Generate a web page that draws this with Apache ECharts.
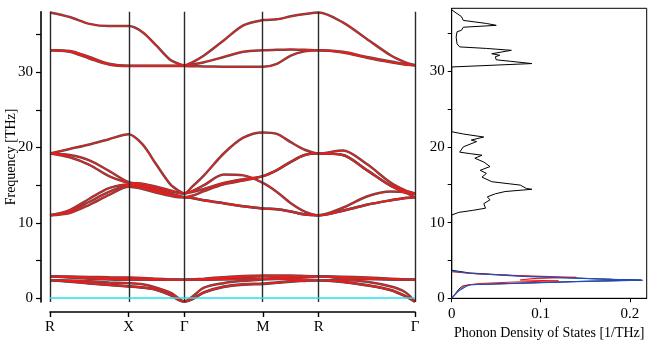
<!DOCTYPE html>
<html>
<head>
<meta charset="utf-8">
<script src="https://cdn.jsdelivr.net/npm/echarts@6/dist/echarts.min.js"></script>
<style>
html,body{margin:0;padding:0;background:#fff;}
#chart{width:650px;height:340px;}
</style>
</head>
<body>
<div id="chart"></div>
<script>
// high symmetry points along the path
var kTicks = [0, 0.707, 1.207, 1.914, 2.414, 3.28];
var kNames = ['R', 'X', 'Γ', 'M', 'R', 'Γ'];
// sample positions along the path
var kx = [0, 0.177, 0.354, 0.530, 0.707, 0.832, 0.957, 1.082, 1.157, 1.207,
          1.278, 1.384, 1.561, 1.737, 1.914, 2.039, 2.164, 2.289, 2.414,
          2.631, 2.847, 3.064, 3.193, 3.28];

// phonon bands [THz], one value per kx
var band1  = [2.4, 2.2, 1.95, 1.75, 1.55, 1.4, 1.1, 0.4, -0.25, -0.45, -0.15, 0.75, 1.5, 1.8, 1.9, 2.05, 2.2, 2.3, 2.4, 2.15, 1.7, 1.05, 0.25, -0.45];
var band2  = [2.4, 2.25, 2.0, 1.8, 1.6, 1.45, 1.15, 0.45, -0.2, -0.45, -0.1, 0.8, 1.55, 1.85, 1.95, 2.1, 2.25, 2.35, 2.4, 2.2, 1.75, 1.1, 0.3, -0.45];
var band3  = [2.4, 2.35, 2.25, 2.1, 2.0, 1.85, 1.4, 0.75, 0.0, -0.45, 0.2, 1.4, 2.0, 2.3, 2.5, 2.55, 2.55, 2.5, 2.4, 2.4, 2.2, 1.55, 0.8, -0.45];
var band4  = [2.9, 2.75, 2.6, 2.5, 2.45, 2.45, 2.45, 2.45, 2.45, 2.45, 2.45, 2.45, 2.48, 2.53, 2.6, 2.7, 2.8, 2.85, 2.9, 2.65, 2.55, 2.5, 2.46, 2.45];
var band5  = [2.9, 2.8, 2.7, 2.6, 2.55, 2.5, 2.47, 2.45, 2.45, 2.45, 2.47, 2.52, 2.65, 2.8, 2.9, 2.9, 2.9, 2.9, 2.9, 2.75, 2.6, 2.5, 2.47, 2.45];
var band6  = [2.9, 2.88, 2.83, 2.78, 2.75, 2.7, 2.6, 2.5, 2.47, 2.45, 2.5, 2.6, 2.8, 2.95, 3.0, 3.0, 3.0, 2.95, 2.9, 2.85, 2.75, 2.6, 2.5, 2.45];
var band7  = [11.0, 11.3, 12.4, 13.7, 14.8, 14.5, 14.0, 13.6, 13.4, 13.4, 13.3, 13.0, 12.6, 12.2, 11.9, 11.8, 11.5, 11.1, 11.0, 11.6, 12.4, 13.0, 13.3, 13.4];
var band8  = [11.0, 11.5, 12.8, 14.1, 15.0, 14.7, 14.2, 13.7, 13.45, 13.4, 13.3, 13.0, 12.6, 12.2, 11.9, 11.8, 11.5, 11.1, 11.0, 11.6, 12.4, 13.0, 13.3, 13.4];
var band9  = [11.0, 11.7, 13.2, 14.6, 15.1, 14.9, 14.4, 13.9, 13.6, 13.4, 13.6, 14.2, 15.1, 15.6, 16.2, 17.0, 18.1, 19.0, 19.2, 19.0, 17.0, 14.9, 14.1, 13.9];
var band10 = [19.2, 18.7, 17.7, 16.2, 15.3, 15.0, 14.6, 14.2, 14.0, 13.9, 14.1, 14.5, 15.3, 15.8, 16.2, 17.0, 18.1, 19.0, 19.2, 19.0, 17.0, 14.9, 14.1, 13.9];
var band11 = [19.2, 19.0, 18.3, 16.9, 15.4, 15.2, 14.8, 14.3, 14.0, 13.9, 14.2, 15.0, 16.4, 16.3, 15.3, 14.1, 12.6, 11.5, 11.0, 12.0, 13.5, 14.15, 14.0, 13.4];
var band12 = [19.2, 19.8, 20.4, 21.1, 21.75, 20.4, 17.7, 15.1, 14.25, 13.9, 14.8, 16.3, 19.2, 21.3, 22.0, 21.8, 20.7, 19.7, 19.2, 19.6, 17.8, 15.3, 14.3, 13.9];
var band13 = [32.9, 32.7, 31.8, 31.0, 30.8, 30.8, 30.8, 30.8, 30.8, 30.8, 30.78, 30.75, 30.72, 30.7, 30.7, 31.1, 32.2, 32.75, 32.9, 32.6, 31.9, 31.3, 31.0, 30.9];
var band14 = [32.9, 32.8, 32.0, 31.1, 30.85, 30.85, 30.85, 30.85, 30.85, 30.85, 31.0, 31.3, 32.0, 32.7, 32.9, 32.95, 33.0, 32.95, 32.9, 32.7, 32.0, 31.4, 31.05, 30.9];
var band15 = [37.9, 37.3, 36.4, 36.1, 36.1, 35.3, 33.5, 31.6, 31.1, 30.9, 31.3, 32.2, 34.2, 36.2, 36.9, 37.0, 37.4, 37.7, 37.9, 36.6, 34.4, 32.2, 31.3, 30.9];

// axis ticks
var freqLabels = [0, 10, 20, 30];
var freqMinor = [0, 5, 10, 15, 20, 25, 30, 35];
var dosLabels = [0, 0.1, 0.2];

// phonon DOS: total (black)
var totFreq = [38.1, 37.6, 37.2, 36.7, 36.3, 36.05, 35.8, 35.4, 35.2, 34.96, 34.5, 33.6, 33.2, 33.0, 32.75, 32.3, 32.1, 31.9, 31.5, 31.3, 31.0, 30.55,
               22.0, 21.7, 21.3, 20.9, 20.7, 20.0, 19.3, 19.1, 18.9, 18.5, 18.0, 17.4, 16.9, 16.5, 16.0, 15.4, 14.95, 14.5, 14.4, 14.1, 13.8, 13.4, 13.0, 12.5, 11.9, 11.6, 11.35, 11.0,
               3.7, 3.35, 2.95, 2.55, 2.4, 2.25, 2.06, 1.8, 1.6, 1.2, 0.6, 0];
var totDos  = [0, 0.006, 0.011, 0.013, 0.039, 0.05, 0.013, 0.011, 0.006, 0.004, 0.005, 0.006, 0.009, 0.039, 0.067, 0.045, 0.054, 0.049, 0.05, 0.066, 0.09, 0,
               0, 0.013, 0.036, 0.022, 0.028, 0.013, 0.009, 0.021, 0.034, 0.026, 0.036, 0.043, 0.032, 0.039, 0.034, 0.045, 0.077, 0.084, 0.09, 0.06, 0.049, 0.04, 0.043, 0.036, 0.038, 0.023, 0.008, 0,
               0, 0.02, 0.077, 0.167, 0.213, 0.15, 0.095, 0.022, 0.012, 0.008, 0.004, 0];
// phonon DOS, low band (blue and red)
var blueFreq = [3.6, 3.3, 2.9, 2.5, 2.38, 2.2, 2.0, 1.78, 1.5, 1.0, 0.4, 0];
var blueDos  = [0, 0.02, 0.08, 0.18, 0.215, 0.14, 0.08, 0.02, 0.015, 0.008, 0.003, 0];
var redFreq  = [3.5, 3.2, 2.95, 2.77, 2.6, 2.42, 2.3, 2.15, 1.95, 1.7, 1.2, 0.6, 0];
var redDos   = [0, 0.03, 0.09, 0.14, 0.09, 0.077, 0.12, 0.07, 0.03, 0.015, 0.01, 0.004, 0];

var FONT = 'Liberation Serif';
var bands = [band1, band2, band3, band4, band5, band6, band7, band8, band9, band10, band11, band12, band13, band14, band15];

function pairs(xs, ys) {
    var out = [];
    for (var i = 0; i < xs.length; i++) out.push([xs[i], ys[i]]);
    return out;
}

var series = [];
// reference lines: high symmetry verticals and zero frequency
series.push({
    type: 'line', xAxisIndex: 0, yAxisIndex: 0, data: [], z: 1,
    markLine: {
        silent: true, symbol: ['none', 'none'], label: {show: false}, animation: false,
        data: kTicks.map(function (k) {
            return {xAxis: k, lineStyle: {color: '#2a2a2a', width: 1.4, type: 'solid'}};
        }).concat([{yAxis: 0, lineStyle: {color: '#22e2f0', width: 1.6, type: 'solid'}}])
    }
});
bands.forEach(function (b, i) {
    var d = pairs(kx, b);
    series.push({
        name: 'band' + (i + 1) + 'a', type: 'line', xAxisIndex: 0, yAxisIndex: 0,
        data: d, smooth: 0.3, showSymbol: false, z: 2,
        lineStyle: {color: '#505050', width: 2.5}
    });
    series.push({
        name: 'band' + (i + 1) + 'b', type: 'line', xAxisIndex: 0, yAxisIndex: 0,
        data: d, smooth: 0.3, showSymbol: false, z: 3,
        lineStyle: {color: '#ee1c1c', width: 1.3}
    });
});
// DOS
series.push({
    type: 'line', xAxisIndex: 1, yAxisIndex: 1, data: pairs(totDos, totFreq),
    showSymbol: false, z: 2, lineStyle: {color: '#000', width: 1}
});
series.push({
    type: 'line', xAxisIndex: 1, yAxisIndex: 1, data: pairs(redDos, redFreq),
    showSymbol: false, z: 3, lineStyle: {color: '#e81818', width: 1}
});
series.push({
    type: 'line', xAxisIndex: 1, yAxisIndex: 1, data: pairs(blueDos, blueFreq),
    showSymbol: false, z: 4, lineStyle: {color: '#1f4fc8', width: 1.1}
});

var option = {
    animation: false,
    backgroundColor: '#fff',
    grid: [
        {left: 50, right: 235, top: 11.8, bottom: 38, outerBoundsMode: 'none', containLabel: false},
        {left: 451.7, right: 3.3, top: 8.3, bottom: 41.7, outerBoundsMode: 'none', containLabel: false,
         show: true, borderColor: '#000', borderWidth: 1, backgroundColor: 'transparent'}
    ],
    xAxis: [
        {
            type: 'value', gridIndex: 0, min: 0, max: 3.28, offset: 10,
            axisLine: {onZero: false, lineStyle: {color: '#000', width: 1.6}},
            axisTick: {customValues: kTicks, length: 5, lineStyle: {color: '#000', width: 1.4}},
            axisLabel: {
                customValues: kTicks, margin: 8, color: '#000', fontFamily: FONT, fontSize: 15,
                formatter: function (v) {
                    for (var i = 0; i < kTicks.length; i++) {
                        if (Math.abs(v - kTicks[i]) < 1e-6) return kNames[i];
                    }
                    return '';
                }
            },
            splitLine: {show: false}
        },
        {
            type: 'value', gridIndex: 1, min: 0, max: 0.219,
            axisLine: {onZero: false, lineStyle: {color: '#000', width: 1}},
            axisTick: {customValues: dosLabels, length: 4, lineStyle: {color: '#000'}},
            axisLabel: {
                customValues: dosLabels, margin: 8, color: '#000', fontFamily: FONT, fontSize: 15,
                formatter: function (v) { return v === 0 ? '0' : v.toFixed(1); }
            },
            splitLine: {show: false},
            name: 'Phonon Density of States [1/THz]', nameLocation: 'middle', nameGap: 28,
            nameMoveOverlap: false,
            nameTextStyle: {color: '#000', fontFamily: FONT, fontSize: 14}
        }
    ],
    yAxis: [
        {
            type: 'value', gridIndex: 0, min: -0.5, max: 38, offset: 9,
            axisLine: {show: true, onZero: false, lineStyle: {color: '#000', width: 1.6}},
            axisTick: {show: true, customValues: freqMinor, length: 5, lineStyle: {color: '#000', width: 1.2}},
            axisLabel: {customValues: freqLabels, margin: 8, color: '#000', fontFamily: FONT, fontSize: 15},
            splitLine: {show: false},
            name: 'Frequency [THz]', nameLocation: 'middle', nameGap: 23,
            nameMoveOverlap: false,
            nameTextStyle: {color: '#000', fontFamily: FONT, fontSize: 14}
        },
        {
            type: 'value', gridIndex: 1, min: 0, max: 38.3,
            axisLine: {show: true, onZero: false, lineStyle: {color: '#000', width: 1}},
            axisTick: {show: true, customValues: freqMinor, length: 4, lineStyle: {color: '#000'}},
            axisLabel: {customValues: freqLabels, margin: 7, color: '#000', fontFamily: FONT, fontSize: 15},
            splitLine: {show: false}
        }
    ],
    series: series
};

var chart = echarts.init(document.getElementById('chart'));
chart.setOption(option);
</script>
</body>
</html>
